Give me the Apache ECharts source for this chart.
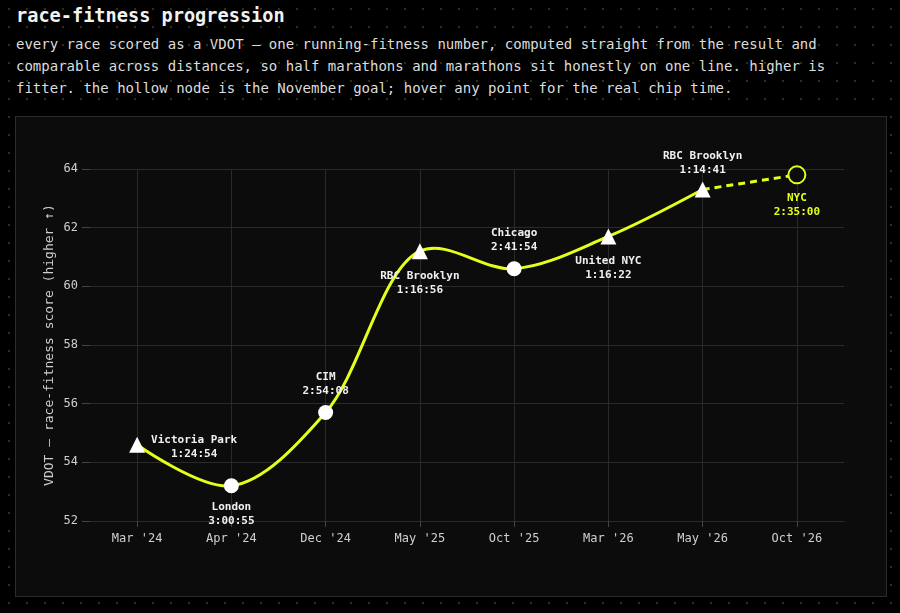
<!DOCTYPE html>
<html>
<head>
<meta charset="utf-8">
<title>race-fitness progression</title>
<script src="https://cdn.jsdelivr.net/npm/echarts@6/dist/echarts.min.js"></script>
<style>
  html, body { margin: 0; padding: 0; }
  body {
    width: 900px; height: 613px; overflow: hidden; position: relative;
    background-color: #000;
    background-image: radial-gradient(circle at 9px 9px, #2c2f13 1px, transparent 1.6px);
    background-size: 18px 18px;
    font-family: "DejaVu Sans Mono", monospace;
  }
  .title {
    position: absolute; left: 16px; top: 4px;
    font-size: 18.6px; line-height: 24px; font-weight: bold; color: #f2f2f2;
  }
  .desc {
    position: absolute; left: 16px; top: 33px;
    font-size: 14px; line-height: 22px; color: #dcdcdc; white-space: nowrap;
  }
  .panel {
    position: absolute; left: 15px; top: 116px;
    width: 870px; height: 479px;
    border: 1px solid #2c2c2c; background: #0c0c0c;
  }
</style>
</head>
<body>
<div class="title">race-fitness progression</div>
<div class="desc">every race scored as a VDOT — one running-fitness number, computed straight from the result and<br>comparable across distances, so half marathons and marathons sit honestly on one line. higher is<br>fitter. the hollow node is the November goal; hover any point for the real chip time.</div>
<div class="panel" id="chart"></div>
<script>
// data
var categories = ["Mar '24", "Apr '24", "Dec '24", "May '25", "Oct '25", "Mar '26", "May '26", "Oct '26"];
var races = ['Victoria Park', 'London', 'CIM', 'RBC Brooklyn', 'Chicago', 'United NYC', 'RBC Brooklyn', 'NYC'];
var chipTimes = ['1:24:54', '3:00:55', '2:54:08', '1:16:56', '2:41:54', '1:16:22', '1:14:41', '2:35:00'];
var distances = ['half', 'full', 'full', 'half', 'full', 'half', 'half', 'full'];
var vdot = [54.6, 53.2, 55.7, 61.2, 60.6, 61.7, 63.3, 63.8];
var goalIndex = 7;   // the planned race, drawn hollow
var yMin = 52, yMax = 64, yStep = 2;

// where each label sits (style only)
var labelSide = ['right', 'bottom', 'top', 'bottom', 'top', 'bottom', 'top', 'bottom'];

var YELLOW = '#e4ff1a';
var FONT = '"DejaVu Sans Mono", monospace';

function makeLabel(i, color) {
  var lab = {
    show: true,
    formatter: races[i] + '\n' + chipTimes[i],
    color: color,
    opacity: 1,
    fontFamily: FONT,
    fontSize: 11,
    fontWeight: 'bold',
    lineHeight: 14,
    align: 'center'
  };
  var half = distances[i] === 'half';
  if (labelSide[i] === 'right') {
    lab.position = 'inside';
    lab.verticalAlign = 'middle';
    lab.offset = [57, 2];
  } else {
    lab.position = labelSide[i];
    if (labelSide[i] === 'top') lab.distance = half ? 4 : 7;
    else lab.distance = half ? 10 : 7;
  }
  return lab;
}

// races already run: [category index, vdot]
var runPoints = [];
vdot.forEach(function (v, i) { if (i !== goalIndex) runPoints.push([i, v]); });

var markerData = runPoints.map(function (p) {
  var i = p[0];
  var half = distances[i] === 'half';
  return {
    value: p,
    symbol: half ? 'triangle' : 'circle',
    symbolSize: half ? 16 : 15,
    itemStyle: { color: '#ffffff', opacity: 1 },
    label: makeLabel(i, '#f0f0f0')
  };
});

// dashed line: last race -> goal
var goalData = vdot.map(function (v, i) {
  if (i < goalIndex - 1) return null;
  if (i < goalIndex) return { value: v, symbol: 'none' };
  return {
    value: v,
    symbol: 'circle',
    symbolSize: 17,
    itemStyle: { color: '#0c0c0c', borderColor: YELLOW, borderWidth: 2 },
    label: makeLabel(i, YELLOW)
  };
});

// centripetal catmull-rom segment between run point k and k+1
function renderSegment(params, api) {
  var k = params.dataIndex;
  var n = runPoints.length;
  if (k >= n - 1) return null;
  function pt(j) {
    j = Math.max(0, Math.min(n - 1, j));
    return api.coord(runPoints[j]);
  }
  function dist(a, b) { return Math.sqrt((a[0] - b[0]) * (a[0] - b[0]) + (a[1] - b[1]) * (a[1] - b[1])); }
  var p0 = pt(k - 1), p1 = pt(k), p2 = pt(k + 1), p3 = pt(k + 2);
  var d01 = dist(p0, p1), d12 = dist(p1, p2), d23 = dist(p2, p3);
  var l01 = Math.sqrt(d01), l12 = Math.sqrt(d12), l23 = Math.sqrt(d23);
  var c1 = [p1[0], p1[1]], c2 = [p2[0], p2[1]];
  if (l01 > 1e-6) {
    var a = 2 * d01 + 3 * l01 * l12 + d12, na = 3 * l01 * (l01 + l12);
    c1 = [(p1[0] * a - p0[0] * d12 + p2[0] * d01) / na, (p1[1] * a - p0[1] * d12 + p2[1] * d01) / na];
  }
  if (l23 > 1e-6) {
    var b = 2 * d23 + 3 * l23 * l12 + d12, nb = 3 * l23 * (l23 + l12);
    c2 = [(p2[0] * b + p1[0] * d23 - p3[0] * d12) / nb, (p2[1] * b + p1[1] * d23 - p3[1] * d12) / nb];
  }
  return {
    type: 'bezierCurve',
    shape: {
      x1: p1[0], y1: p1[1], x2: p2[0], y2: p2[1],
      cpx1: c1[0], cpy1: c1[1], cpx2: c2[0], cpy2: c2[1]
    },
    style: { stroke: YELLOW, lineWidth: 3, fill: 'none' }
  };
}

var chart = echarts.init(document.getElementById('chart'));

var option = {
  backgroundColor: 'transparent',
  animation: false,
  textStyle: { fontFamily: FONT },
  grid: { left: 74, right: 42, top: 52, bottom: 75 },
  xAxis: {
    type: 'category',
    data: categories,
    boundaryGap: true,
    axisLine: { show: true, lineStyle: { color: '#2a2a2a' } },
    axisTick: { show: true, alignWithLabel: true, length: 6, lineStyle: { color: '#444' } },
    axisLabel: { color: '#cfcfcf', fontSize: 12, fontFamily: FONT, margin: 12 },
    splitLine: { show: false }
  },
  yAxis: {
    type: 'value',
    min: yMin,
    max: yMax,
    interval: yStep,
    name: 'VDOT — race-fitness score (higher ↑)',
    nameLocation: 'middle',
    nameGap: 34,
    nameMoveOverlap: false,
    nameTextStyle: { color: '#cfcfcf', fontSize: 13, fontFamily: FONT },
    axisLine: { show: false },
    axisTick: { show: true, length: 8, lineStyle: { color: '#444' } },
    axisLabel: { color: '#cfcfcf', fontSize: 12, fontFamily: FONT, margin: 12 },
    splitLine: { show: true, lineStyle: { color: '#2a2a2a', width: 1 } }
  },
  series: [
    {
      // vertical grid lines through each race
      type: 'line',
      data: [],
      silent: true,
      z: 1,
      markLine: {
        silent: true,
        z: 1,
        symbol: 'none',
        label: { show: false },
        lineStyle: { color: '#2a2a2a', width: 1, type: 'solid' },
        data: categories.map(function (c) { return { xAxis: c }; })
      }
    },
    {
      name: 'VDOT curve',
      type: 'custom',
      data: runPoints,
      renderItem: renderSegment,
      silent: true,
      z: 2
    },
    {
      name: 'goal',
      type: 'line',
      data: goalData,
      z: 3,
      lineStyle: { color: YELLOW, width: 3, type: [7, 5] },
      itemStyle: { color: YELLOW }
    },
    {
      name: 'VDOT',
      type: 'scatter',
      data: markerData,
      itemStyle: { opacity: 1 },
      z: 4
    }
  ]
};

chart.setOption(option);
</script>
</body>
</html>
